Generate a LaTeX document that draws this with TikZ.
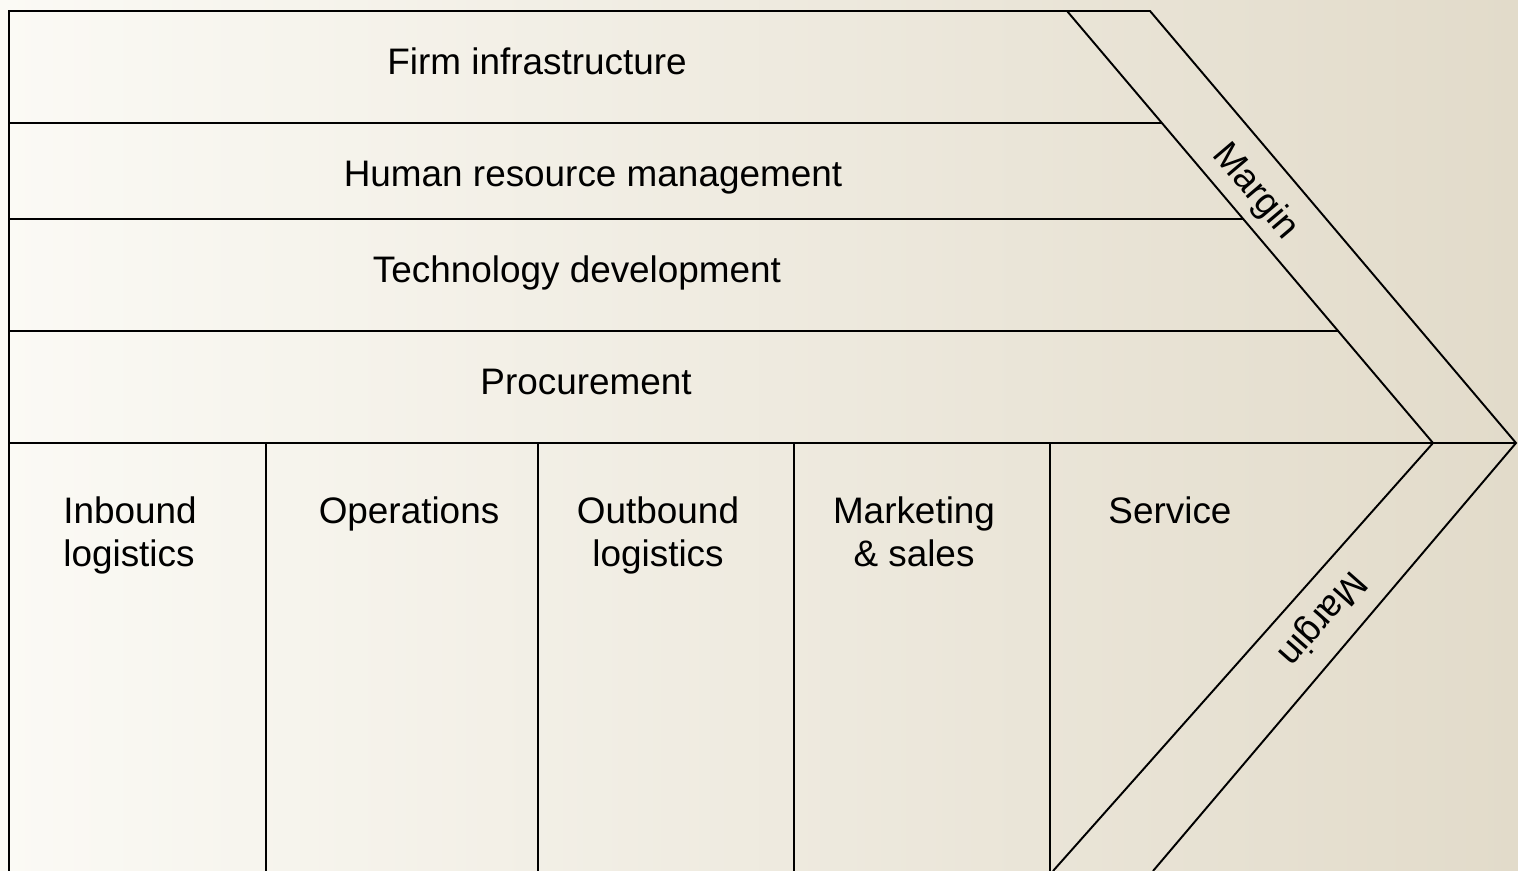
\documentclass[tikz,border=0pt]{standalone}
\usepackage{fontspec}
\setmainfont{Liberation Sans}
\usetikzlibrary{calc}

\definecolor{bgleft}{HTML}{FBFAF5}
\definecolor{bgmid}{HTML}{F3EFE7}
\definecolor{bgright}{HTML}{E2DBCA}

\tikzset{
  chainline/.style={line width=1.1pt, black},
  act/.style={inner sep=0pt, font=\fontsize{21}{24.5}\selectfont},
  primact/.style={act, anchor=north, align=center},
}

\begin{document}
\begin{tikzpicture}[x=0.02cm, y=-0.02cm] % 1 unit = 1 pixel, y nach unten

%HINTERGRUND
\useasboundingbox (0,0) rectangle (1518,871);
\shade [left color=bgleft, middle color=bgmid, right color=bgright] (0,0) rectangle (1518,871);

%PFEIL (AUSSEN UND INNEN)
\coordinate (topout) at (1150,11);
\coordinate (topin) at (1067,11);
\coordinate (tipout) at (1516,443);
\coordinate (tipin) at (1433,443);
\coordinate (botout) at (1153,871);
\coordinate (botin) at (1053,871);
\draw [chainline] (9,871) -- (9,11) -- (topout) -- (tipout) -- (botout);
\draw [chainline] (topin) -- (tipin) -- (botin);

%ZEILEN DER UNTERSTUETZENDEN AKTIVITAETEN
\draw [chainline] (9,123) -- ($(topin)!{(123-11)/432}!(tipin)$);
\draw [chainline] (9,219) -- ($(topin)!{(219-11)/432}!(tipin)$);
\draw [chainline] (9,331) -- ($(topin)!{(331-11)/432}!(tipin)$);
\draw [chainline] (9,443) -- (tipout);

%SPALTEN DER PRIMAEREN AKTIVITAETEN
\foreach \x in {266,538,794,1050} {
  \draw [chainline] (\x,443) -- (\x,871);
}

%TEXTE ZEILE NR. 0 BIS 3 (von oben)
\node [act, anchor=base] (firm) at (537,75) {Firm infrastructure};
\node [act, anchor=base] (hrm) at (593,187) {Human resource management};
\node [act, anchor=base] (tech) at (577,283) {Technology development};
\node [act, anchor=base] (proc) at (586,395) {Procurement};

%TEXTE SPALTE NR. 0 BIS 4 (von links)
\node [act, anchor=north west, align=left] (inbound) at (63,496) {Inbound\\logistics};
\node [primact] (ops) at (409,496) {Operations};
\node [primact] (outbound) at (658,496) {Outbound\\logistics};
\node [primact] (mkt) at (914,496) {Marketing\\\& sales};
\node [primact] (service) at (1170,496) {Service};

%MARGE
\node [act, rotate=-49.7] (margintop) at (1255,192) {Margin};
\node [act, rotate=228.5] (marginbot) at (1321,618) {Margin};

\end{tikzpicture}
\end{document}
